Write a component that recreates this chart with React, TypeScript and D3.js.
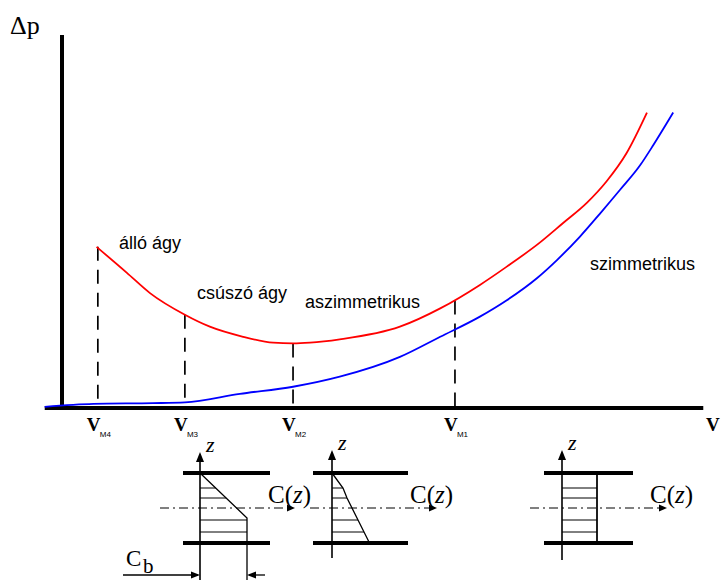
import React from "react";
import * as d3 from "d3";

// pressure drop vs. flow velocity
const vAsym = [5.4, 10.1, 13.75, 19.2, 23.1, 28.3, 33.0, 36.1, 38.75, 43.4, 52.8, 59.1, 65.3, 69.5, 74.7, 78.3, 82.0, 85.1, 88.2, 91.4];
const dpAsym = [43.2, 36.3, 30.8, 25.0, 21.8, 19.1, 17.5, 17.3, 17.5, 18.4, 21.8, 26.7, 33.0, 37.9, 44.4, 49.6, 55.0, 60.8, 68.3, 79.2];
const vSym = [-2.7, 4.9, 14.2, 19.2, 27.8, 36.1, 43.4, 52.8, 59.1, 65.3, 69.5, 74.2, 77.3, 80.9, 84.1, 87.2, 90.3, 92.4, 95.5];
const dpSym = [0.3, 1.1, 1.3, 1.5, 3.8, 5.7, 8.4, 13.7, 19.1, 24.5, 28.9, 34.8, 39.6, 45.9, 52.2, 58.5, 65.0, 70.5, 79.2];

// critical velocities V_M4 .. V_M1
const markerV = [5.6, 19.2, 36.1, 61.4];
const markerDp = [43.2, 25.0, 17.3, 28.8];
const markerSub = ["M4", "M3", "M2", "M1"];

const regimeLabels = ["álló ágy", "csúszó ágy", "aszimmetrikus", "szimmetrikus"];

// velocity profiles C(z) across the pipe, z from +35 (top) to -35 (bottom)
const hatchZ = [20, 10, -12, -24];
const profileSlide = [[35, 0], [-10, 47], [-72, 47]];
const profileAsym = [[35, 0], [20, 11], [10, 15], [-12, 26], [-24, 32], [-34, 37]];
const profileSym = [[35, 35], [-35, 35]];

const W = 721, H = 580;

const x = d3.scaleLinear().domain([0, 100]).range([62, 702]);
const y = d3.scaleLinear().domain([0, 100]).range([408, 35]);

const line = d3.line<[number, number]>()
  .x(d => x(d[0]))
  .y(d => y(d[1]))
  .curve(d3.curveMonotoneX);

const sans = "'Liberation Sans', Arial, sans-serif";
const serif = "'Liberation Serif', 'Times New Roman', serif";

function Profile({ pts, axisX, walls, dash, labelX, axisTop, axisBottom, cb }: any) {
  const zs = pts.map((p: number[]) => p[0]);
  const cs = pts.map((p: number[]) => p[1]);
  const z = d3.scaleLinear().domain([-35, 35]).range([543, 473]);
  const c = d3.scaleLinear().domain([0, 100]).range([axisX, axisX + 100]);
  const cAt = d3.scaleLinear().domain(zs).range(cs).clamp(true);
  const prof = d3.line<number[]>().x(d => c(d[1])).y(d => z(d[0]));
  const yc = z(0);
  return (
    <g>
      {/* walls */}
      <line x1={walls[0]} x2={walls[1]} y1={z(35)} y2={z(35)} stroke="#000" strokeWidth={4} />
      <line x1={walls[0]} x2={walls[1]} y1={z(-35)} y2={z(-35)} stroke="#000" strokeWidth={4} />
      {/* hatching */}
      {hatchZ.map((h, i) => (
        <line key={i} x1={axisX} x2={c(cAt(h))} y1={z(h)} y2={z(h)} stroke="#000" strokeWidth={1} />
      ))}
      {/* profile */}
      <path d={prof(pts) || ""} fill="none" stroke="#000" strokeWidth={1.3} />
      {/* centre line */}
      <line x1={dash[0]} x2={dash[1] - 6} y1={yc} y2={yc} stroke="#000" strokeWidth={1} strokeDasharray="9 4 2 4" />
      <path d={`M${dash[1]},${yc} L${dash[1] - 8},${yc - 3.5} L${dash[1] - 8},${yc + 3.5} Z`} fill="#000" />
      <text x={labelX} y={503} fontFamily={serif} fontSize={25}>C(<tspan fontStyle="italic">z</tspan>)</text>
      {/* z axis */}
      <line x1={axisX} x2={axisX} y1={axisTop + 4} y2={axisBottom} stroke="#000" strokeWidth={1.6} />
      <path d={`M${axisX},${axisTop} L${axisX - 4},${axisTop + 10} L${axisX + 4},${axisTop + 10} Z`} fill="#000" />
      <text x={axisX + 6} y={axisTop} fontFamily={serif} fontStyle="italic" fontSize={22}>z</text>
      {cb && (
        <g>
          <line x1={123} x2={axisX - 2} y1={575} y2={575} stroke="#000" strokeWidth={1.3} />
          <path d={`M${axisX},575 L${axisX - 9},571.5 L${axisX - 9},578.5 Z`} fill="#000" />
          <line x1={c(47) + 2} x2={265} y1={575} y2={575} stroke="#000" strokeWidth={1.3} />
          <path d={`M${c(47)},575 L${c(47) + 9},571.5 L${c(47) + 9},578.5 Z`} fill="#000" />
          <text x={126} y={566} fontFamily={serif} fontSize={23}>C</text>
          <text x={143} y={573} fontFamily={serif} fontSize={21}>b</text>
        </g>
      )}
    </g>
  );
}

export default function App() {
  const asym = vAsym.map((v, i) => [v, dpAsym[i]] as [number, number]);
  const sym = vSym.map((v, i) => [v, dpSym[i]] as [number, number]);
  return (
    <svg width={W} height={H} style={{ position: "absolute", left: 0, top: 0, background: "#fff" }}>
      {/* axes */}
      <line x1={x(0)} x2={x(0)} y1={y(0) + 2} y2={y(100)} stroke="#000" strokeWidth={4} />
      <line x1={x(-2.7)} x2={x(100.2)} y1={y(0)} y2={y(0)} stroke="#000" strokeWidth={4} />
      <text x={10} y={34} fontFamily={serif} fontSize={26}>Δp</text>
      <text x={706} y={431} fontFamily={serif} fontWeight="bold" fontSize={19}>V</text>

      {/* critical velocity markers */}
      {markerV.map((v, i) => (
        <g key={i}>
          <line x1={x(v)} x2={x(v)} y1={y(markerDp[i])} y2={y(0)} stroke="#000" strokeWidth={1.7} strokeDasharray="14 9" />
          <text x={x(v) - 11} y={431} fontFamily={serif} fontWeight="bold" fontSize={19}>V</text>
          <text x={x(v) + 2} y={437} fontFamily={sans} fontSize={8}>{markerSub[i]}</text>
        </g>
      ))}

      {/* curves */}
      <path d={line(sym) || ""} fill="none" stroke="#0000ff" strokeWidth={1.8} />
      <path d={line(asym) || ""} fill="none" stroke="#ff0000" strokeWidth={1.8} />

      {/* regime labels */}
      <text x={119} y={249} fontFamily={sans} fontSize={18}>{regimeLabels[0]}</text>
      <text x={197} y={299} fontFamily={sans} fontSize={18}>{regimeLabels[1]}</text>
      <text x={305} y={308} fontFamily={sans} fontSize={18}>{regimeLabels[2]}</text>
      <text x={590} y={270} fontFamily={sans} fontSize={18}>{regimeLabels[3]}</text>

      {/* velocity profiles */}
      <Profile pts={profileSlide} axisX={200} walls={[183, 270]} dash={[160, 295]} labelX={268} axisTop={452} axisBottom={580} cb />
      <Profile pts={profileAsym} axisX={332} walls={[313, 408]} dash={[310, 437]} labelX={410} axisTop={450} axisBottom={558} />
      <Profile pts={profileSym} axisX={562} walls={[544, 633]} dash={[530, 667]} labelX={650} axisTop={450} axisBottom={560} />
      <line x1={597} x2={597} y1={473} y2={543} stroke="#000" strokeWidth={1.3} />
    </svg>
  );
}
